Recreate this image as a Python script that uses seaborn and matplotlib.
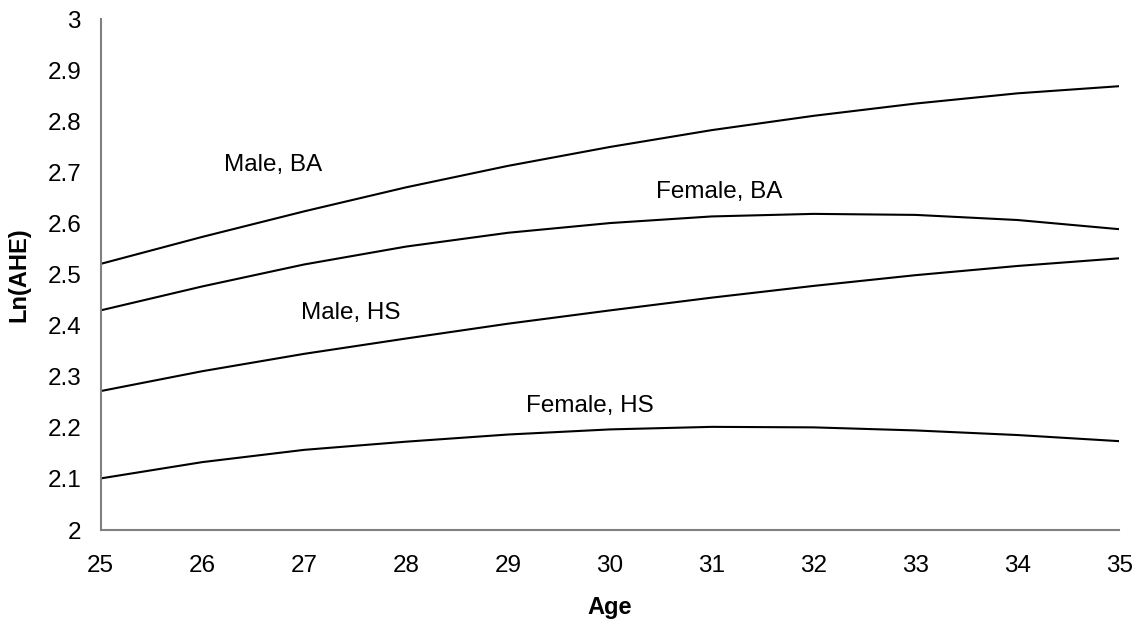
import pandas as pd
import matplotlib.pyplot as plt
import seaborn as sns

# values (Ln of average hourly earnings by age)
ages = [25, 26, 27, 28, 29, 30, 31, 32, 33, 34, 35]
male_ba = [2.521, 2.574, 2.624, 2.671, 2.713, 2.750, 2.783, 2.811, 2.835, 2.855, 2.869]
female_ba = [2.430, 2.477, 2.520, 2.555, 2.582, 2.601, 2.614, 2.619, 2.617, 2.607, 2.589]
male_hs = [2.272, 2.311, 2.345, 2.375, 2.404, 2.430, 2.455, 2.478, 2.499, 2.517, 2.532]
female_hs = [2.101, 2.133, 2.157, 2.173, 2.187, 2.197, 2.202, 2.201, 2.195, 2.186, 2.174]

series_names = ['Male, BA', 'Female, BA', 'Male, HS', 'Female, HS']
# where each series label sits (age, value)
label_pos = [(26.69, 2.715), (31.07, 2.662), (27.46, 2.425), (29.8, 2.243)]

df = pd.concat([
    pd.DataFrame({'Age': ages, 'LnAHE': vals, 'Series': name})
    for name, vals in zip(series_names, [male_ba, female_ba, male_hs, female_hs])
])

sns.set_style("white")
plt.rcParams['font.family'] = ['Liberation Sans', 'DejaVu Sans']
plt.rcParams['text.color'] = 'black'
plt.rcParams['axes.labelcolor'] = 'black'

fig, ax = plt.subplots(figsize=(11.46, 6.28), dpi=100)
fig.subplots_adjust(left=0.0877, right=0.9767, bottom=0.156, top=0.9693)

sns.lineplot(data=df, x='Age', y='LnAHE', hue='Series', palette=['black'] * 4,
             linewidth=1.5, legend=False, ax=ax)

for name, (x, y) in zip(series_names, label_pos):
    ax.text(x, y, name, fontsize=17.5, ha='center', va='center', color='black')

ax.set_xlim(25, 35)
ax.set_ylim(2, 3)
ax.set_xticks(range(25, 36))
ax.set_yticks([2 + i / 10 for i in range(11)])
ax.set_yticklabels(['2', '2.1', '2.2', '2.3', '2.4', '2.5', '2.6', '2.7', '2.8', '2.9', '3'])

ax.set_xlabel('Age', fontsize=17, fontweight='bold', labelpad=14, color='black')
ax.set_ylabel('Ln(AHE)', fontsize=17, fontweight='bold', labelpad=12, color='black')

for side in ['top', 'right']:
    ax.spines[side].set_visible(False)
for side in ['left', 'bottom']:
    ax.spines[side].set_color('#808080')
    ax.spines[side].set_linewidth(1.5)

ax.tick_params(axis='both', which='major', direction='out', length=6, width=1,
               color='#404040', labelcolor='black', labelsize=17.5, pad=8)
ax.tick_params(axis='x', pad=12)

plt.savefig('out.png', dpi=100)
